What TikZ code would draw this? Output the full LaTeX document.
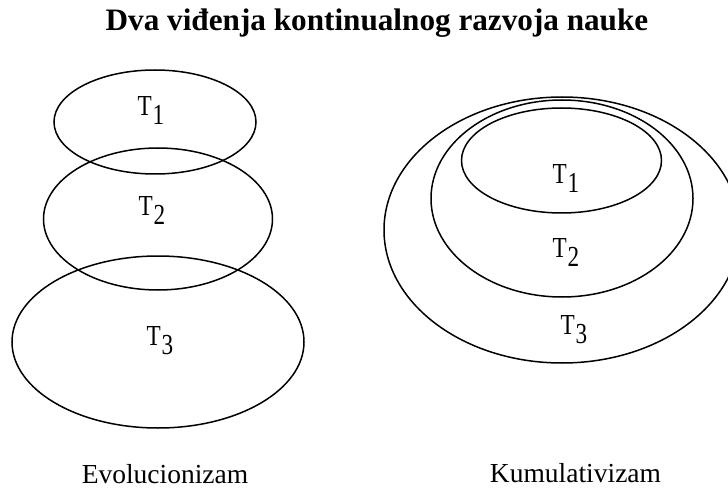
\documentclass[tikz,border=0pt]{standalone}
\usepackage{fontspec}
\usepackage{graphicx}
\setmainfont{Liberation Serif}
\newcommand\Tlab[1]{\scalebox{0.8}[1]{T\kern1pt\raisebox{-9pt}{#1}}}
\begin{document}
\begin{tikzpicture}[x=1pt,y=-1pt,
  theory/.style={draw=black,line width=1.5pt},
  tlabel/.style={inner sep=0pt,font=\fontsize{29}{29}\selectfont},
  caption/.style={inner sep=0pt,anchor=base,font=\fontsize{27.5}{27.5}\selectfont},
  titletext/.style={inner sep=0pt,anchor=base,font=\fontsize{31.2}{31.2}\selectfont\bfseries}]
\useasboundingbox (0,0) rectangle (728,489);
\clip (0,0) rectangle (728,489);
% title
\node[titletext] (title) at (377,31) {Dva viđenja kontinualnog razvoja nauke};
% Evolucionizam
\draw[theory] (155,122) ellipse [x radius=101, y radius=52];
\draw[theory] (158,219) ellipse [x radius=114.5, y radius=71];
\draw[theory] (158,342) ellipse [x radius=146, y radius=86];
\node[tlabel] (l1) at (151,110.5) {\Tlab{1}};
\node[tlabel] (l2) at (152,211) {\Tlab{2}};
\node[tlabel] (l3) at (160,341) {\Tlab{3}};
\node[caption] (evo) at (165,483) {Evolucionizam};
% Kumulativizam
\draw[theory] (562,230) ellipse [x radius=178, y radius=133];
\draw[theory] (562,198.5) ellipse [x radius=131, y radius=98.5];
\draw[theory] (561.5,160.5) ellipse [x radius=100, y radius=52.5];
\node[tlabel] (r1) at (566,179) {\Tlab{1}};
\node[tlabel] (r2) at (566,253) {\Tlab{2}};
\node[tlabel] (r3) at (574,330) {\Tlab{3}};
\node[caption] (kum) at (575.5,482) {Kumulativizam};
\end{tikzpicture}
\end{document}
